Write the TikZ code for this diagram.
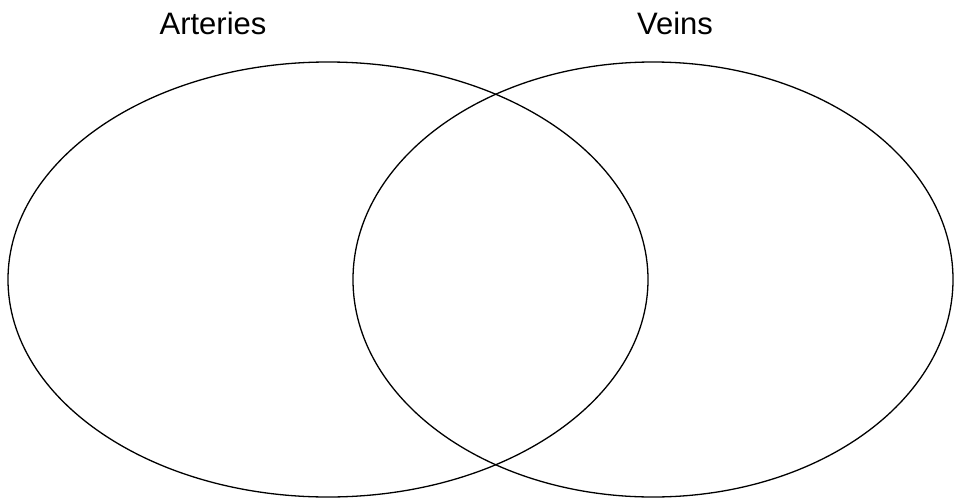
\documentclass[tikz,border=0pt]{standalone}
\usepackage{fontspec}
\setmainfont{Liberation Sans}
\usetikzlibrary{shapes.geometric,positioning}
\tikzset{
mySet/.style={
	ellipse,draw=black,line width=1.3pt,
	inner sep=0pt
}
, myTitle/.style={
	anchor=base,text=black,inner sep=0pt,
	font=\fontsize{31}{37}\selectfont
}
}

\begin{document}
\begin{tikzpicture}[x=1pt,y=-1pt]
	% frame
	\useasboundingbox (0,0) rectangle (954,501);
	% sets
	\node[mySet,minimum width=640pt,minimum height=435pt] (Arteries) at (328,279.5) {};
	\node[mySet,minimum width=600pt,minimum height=435pt] (Veins) at (653,279.5) {};
	% titles
	\node[myTitle] (ArteriesTitle) at (213,34) {Arteries};
	\node[myTitle] (VeinsTitle) at (675,34) {Veins};
\end{tikzpicture}
\end{document}
